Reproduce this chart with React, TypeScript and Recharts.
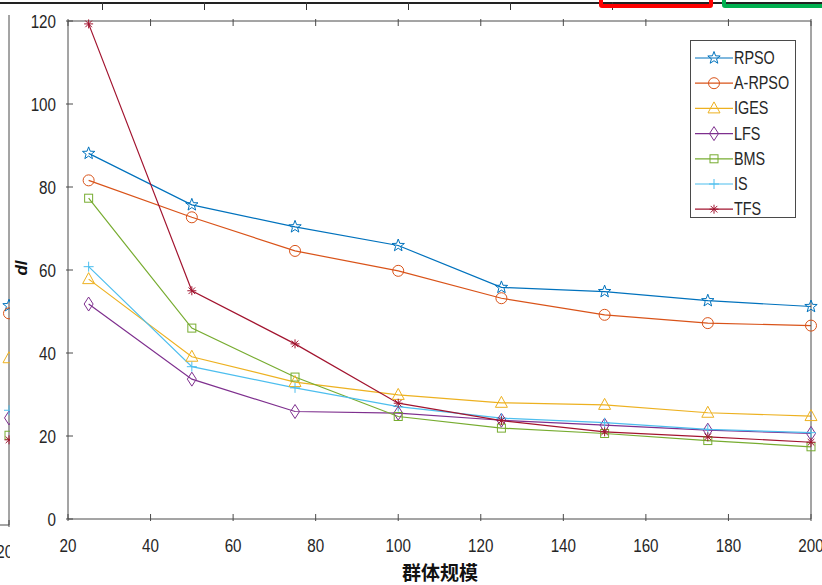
import React from 'react';
import { LineChart, Line, XAxis, YAxis, Legend } from 'recharts';

// ---------- data ----------
const xValues = [25, 50, 75, 100, 125, 150, 175, 200];
const rpso = [88.1, 75.7, 70.4, 65.9, 55.8, 54.8, 52.6, 51.2];
const arpso = [81.6, 72.7, 64.6, 59.8, 53.2, 49.2, 47.2, 46.6];
const iges = [57.8, 39.1, 33.0, 29.9, 28.0, 27.5, 25.6, 24.8];
const lfs = [51.8, 33.7, 25.9, 25.5, 23.8, 22.6, 21.4, 20.6];
const bms = [77.3, 46.0, 34.2, 24.7, 21.9, 20.6, 18.9, 17.4];
const isv = [60.8, 36.7, 31.6, 27.1, 24.3, 23.2, 21.6, 20.8];
const tfs = [119.3, 55.0, 42.2, 27.9, 23.7, 21.0, 19.8, 18.5];

const xTicks = [20, 40, 60, 80, 100, 120, 140, 160, 180, 200];
const yTicks = [0, 20, 40, 60, 80, 100, 120];

const seriesNames = ['RPSO', 'A-RPSO', 'IGES', 'LFS', 'BMS', 'IS', 'TFS'];
const seriesColors = ['#0072BD', '#D95319', '#EDB120', '#7E2F8E', '#77AC30', '#4DBEEE', '#A2142F'];
const seriesMarkers = ['star', 'circle', 'triangle', 'diamond', 'square', 'plus', 'asterisk'];
const mainValues = [rpso, arpso, iges, lfs, bms, isv, tfs];

// neighbouring (cropped) chart on the left: its last points at x = 200
const fragX = [200];
const fragValues = [[43.0], [41.5], [32.7], [21.0], [17.6], [22.5], [16.7]];
const fragXTicks = [200];
const fragYTicks = [0, 20, 40, 60, 80, 100];

// neighbouring chart above: its bottom axis tick indices
const topDecorTicks = [1, 2, 3, 4, 5, 6];

const mainData = xValues.map((x, i) => {
  const row: any = { x };
  seriesNames.forEach((n, k) => (row[n] = mainValues[k][i]));
  return row;
});
const fragData = fragX.map((x, i) => {
  const row: any = { x };
  seriesNames.forEach((n, k) => (row[n] = fragValues[k][i]));
  return row;
});

// ---------- styling ----------
const AXIS = '#4a4a4a';
const TXT = '#262626';
const FONT = "'Liberation Sans', Arial, sans-serif";
const TICK_LEN = 7;
const SQUEEZE = 0.8;

const NText = ({ x, y, anchor, size, children }: any) => (
  <text
    transform={`translate(${x},${y}) scale(${SQUEEZE},1)`}
    textAnchor={anchor}
    fontSize={size}
    fontFamily={FONT}
    fill={TXT}
  >
    {children}
  </text>
);

const starPoints = (cx: number, cy: number, R: number, r: number) => {
  const pts: string[] = [];
  for (let i = 0; i < 10; i++) {
    const a = -Math.PI / 2 + (i * Math.PI) / 5;
    const rr = i % 2 === 0 ? R : r;
    pts.push(`${cx + rr * Math.cos(a)},${cy + rr * Math.sin(a)}`);
  }
  return pts.join(' ');
};

function MarkerShape({ shape, cx, cy, color }: { shape: string; cx: number; cy: number; color: string }) {
  const c = { fill: 'none', stroke: color, strokeWidth: 1 };
  switch (shape) {
    case 'star':
      return <polygon points={starPoints(cx, cy, 6.5, 2.7)} {...c} />;
    case 'circle':
      return <circle cx={cx} cy={cy} r={5.5} {...c} />;
    case 'triangle':
      return <polygon points={`${cx},${cy - 6.5} ${cx - 6},${cy + 4.5} ${cx + 6},${cy + 4.5}`} {...c} />;
    case 'diamond':
      return <polygon points={`${cx},${cy - 7} ${cx + 4.5},${cy} ${cx},${cy + 7} ${cx - 4.5},${cy}`} {...c} />;
    case 'square':
      return <rect x={cx - 4} y={cy - 4} width={8} height={8} {...c} />;
    case 'plus':
      return (
        <g {...c}>
          <line x1={cx - 5} y1={cy} x2={cx + 5} y2={cy} />
          <line x1={cx} y1={cy - 5} x2={cx} y2={cy + 5} />
        </g>
      );
    default:
      return (
        <g {...c}>
          <line x1={cx - 4.5} y1={cy} x2={cx + 4.5} y2={cy} />
          <line x1={cx} y1={cy - 4.5} x2={cx} y2={cy + 4.5} />
          <line x1={cx - 3.3} y1={cy - 3.3} x2={cx + 3.3} y2={cy + 3.3} />
          <line x1={cx - 3.3} y1={cy + 3.3} x2={cx + 3.3} y2={cy - 3.3} />
        </g>
      );
  }
}

const makeDot = (shape: string, color: string) => (props: any) => {
  const { cx, cy, index } = props;
  if (cx == null || cy == null) return <g key={`e${index}`} />;
  return <MarkerShape key={`${shape}${index}`} shape={shape} cx={cx} cy={cy} color={color} />;
};

// custom ticks (MATLAB-style inward ticks)
const BottomTick = (props: any) => {
  const { x, y, payload } = props;
  return (
    <g>
      <line x1={x} y1={y} x2={x} y2={y - TICK_LEN} stroke={AXIS} strokeWidth={1} />
      <NText x={x} y={y + 31} anchor="middle" size={19}>
        {payload.value}
      </NText>
    </g>
  );
};
const TopTick = (props: any) => {
  const { x, y } = props;
  return <line x1={x} y1={y} x2={x} y2={y + TICK_LEN} stroke={AXIS} strokeWidth={1} />;
};
const LeftTick = (props: any) => {
  const { x, y, payload } = props;
  return (
    <g>
      <line x1={x} y1={y} x2={x + TICK_LEN} y2={y} stroke={AXIS} strokeWidth={1} />
      <NText x={x - 10} y={y + 6.5} anchor="end" size={19}>
        {payload.value}
      </NText>
    </g>
  );
};
const RightTick = (props: any) => {
  const { x, y } = props;
  return <line x1={x} y1={y} x2={x - TICK_LEN} y2={y} stroke={AXIS} strokeWidth={1} />;
};

const renderLegend = () => (
  <div
    style={{
      width: 106,
      height: 178,
      border: `1px solid ${AXIS}`,
      background: '#fff',
      boxSizing: 'border-box',
    }}
  >
    <svg width={104} height={176} style={{ display: 'block', overflow: 'visible' }}>
      {seriesNames.map((n, k) => {
        const cy = 17 + 25.2 * k;
        return (
          <g key={n}>
            <line x1={4} x2={42} y1={cy} y2={cy} stroke={seriesColors[k]} strokeWidth={1.2} />
            <MarkerShape shape={seriesMarkers[k]} cx={23} cy={cy} color={seriesColors[k]} />
            <NText x={43} y={cy + 6} anchor="start" size={18}>
              {n}
            </NText>
          </g>
        );
      })}
    </svg>
  </div>
);

const axisLineStyle = { stroke: AXIS, strokeWidth: 1 };

export default function App() {
  return (
    <div
      style={{
        position: 'absolute',
        left: 0,
        top: 0,
        width: 822,
        height: 585,
        overflow: 'hidden',
        background: '#fff',
      }}
    >
      {/* right edge of the neighbouring chart on the left */}
      <div style={{ position: 'absolute', left: 0, top: 0, width: 12, height: 585, overflow: 'hidden' }}>
        <div style={{ position: 'absolute', left: -90, top: 0 }}>
          <LineChart width={100} height={585} data={fragData} margin={{ top: 15, right: 0, left: 0, bottom: 0 }}>
            <XAxis
              type="number"
              dataKey="x"
              domain={[20, 200]}
              ticks={fragXTicks}
              height={60}
              tickSize={0}
              tickLine={false}
              axisLine={axisLineStyle}
              tick={<BottomTick />}
              interval={0}
            />
            <XAxis
              xAxisId="top"
              orientation="top"
              type="number"
              dataKey="x"
              domain={[20, 200]}
              height={0}
              tick={false}
              tickLine={false}
              axisLine={axisLineStyle}
            />
            <YAxis type="number" domain={[0, 100]} hide width={0} />
            <YAxis
              yAxisId="right"
              orientation="right"
              type="number"
              domain={[0, 100]}
              ticks={fragYTicks}
              width={1}
              tickSize={0}
              tickLine={false}
              axisLine={axisLineStyle}
              tick={<RightTick />}
              interval={0}
            />
            {seriesNames.map((n, k) => (
              <Line
                key={n}
                type="linear"
                dataKey={n}
                stroke={seriesColors[k]}
                strokeWidth={1.2}
                dot={makeDot(seriesMarkers[k], seriesColors[k])}
                activeDot={false}
                isAnimationActive={false}
              />
            ))}
          </LineChart>
        </div>
      </div>

      {/* main chart */}
      <div style={{ position: 'absolute', left: 0, top: 0 }}>
        <LineChart width={822} height={585} data={mainData} margin={{ top: 0, right: 0, left: 0, bottom: 0 }}>
          <XAxis
            type="number"
            dataKey="x"
            domain={[20, 200]}
            ticks={xTicks}
            height={66}
            tickSize={0}
            tickLine={false}
            axisLine={axisLineStyle}
            tick={<BottomTick />}
            interval={0}
            label={{
              value: '群体规模',
              content: () => (
                <text
                  x={440}
                  y={580}
                  textAnchor="middle"
                  fontSize={19}
                  fontWeight="bold"
                  fontFamily="'Noto Sans CJK SC', sans-serif"
                  fill="#111"
                >
                  群体规模
                </text>
              ),
            }}
          />
          <XAxis
            xAxisId="top"
            orientation="top"
            type="number"
            dataKey="x"
            domain={[20, 200]}
            ticks={xTicks}
            height={21}
            tickSize={0}
            tickLine={false}
            axisLine={axisLineStyle}
            tick={<TopTick />}
            interval={0}
          />
          <YAxis
            type="number"
            domain={[0, 120]}
            ticks={yTicks}
            width={68}
            tickSize={0}
            tickLine={false}
            axisLine={axisLineStyle}
            tick={<LeftTick />}
            interval={0}
            label={{
              value: 'dl',
              content: () => (
                <text
                  x={27}
                  y={268}
                  transform="rotate(-90 27 268)"
                  textAnchor="middle"
                  fontSize={17}
                  fontWeight="bold"
                  fontStyle="italic"
                  fontFamily="'Liberation Sans', Arial, sans-serif"
                  fill="#111"
                >
                  dl
                </text>
              ),
            }}
          />
          <YAxis
            yAxisId="right"
            orientation="right"
            type="number"
            domain={[0, 120]}
            ticks={yTicks}
            width={11}
            tickSize={0}
            tickLine={false}
            axisLine={axisLineStyle}
            tick={<RightTick />}
            interval={0}
          />
          <Legend
            content={renderLegend}
            layout="vertical"
            align="center"
            verticalAlign="middle"
            wrapperStyle={{ left: 690, top: 40, width: 106, height: 178 }}
          />
          {seriesNames.map((n, k) => (
            <Line
              key={n}
              type="linear"
              dataKey={n}
              stroke={seriesColors[k]}
              strokeWidth={1.2}
              dot={makeDot(seriesMarkers[k], seriesColors[k])}
              activeDot={false}
              isAnimationActive={false}
            />
          ))}
        </LineChart>
      </div>

      {/* bottom axis of the neighbouring chart above (cropped), drawn on top */}
      <div
        style={{
          position: 'absolute',
          left: 0,
          top: 2,
          width: 822,
          height: 2,
          background: '#222',
          zIndex: 10,
        }}
      />
      {topDecorTicks.map((t) => (
        <div
          key={t}
          style={{
            position: 'absolute',
            left: t * 102,
            top: 2,
            width: 1,
            height: 8,
            background: '#333',
            zIndex: 10,
          }}
        />
      ))}
      <div
        style={{
          position: 'absolute',
          left: 599,
          top: -4,
          width: 114,
          height: 12,
          border: '4px solid #ff0000',
          borderRadius: 3,
          boxSizing: 'border-box',
          zIndex: 11,
        }}
      />
      <div
        style={{
          position: 'absolute',
          left: 722,
          top: -4,
          width: 104,
          height: 12,
          border: '4px solid #00b050',
          borderRadius: 3,
          boxSizing: 'border-box',
          zIndex: 11,
        }}
      />
    </div>
  );
}
